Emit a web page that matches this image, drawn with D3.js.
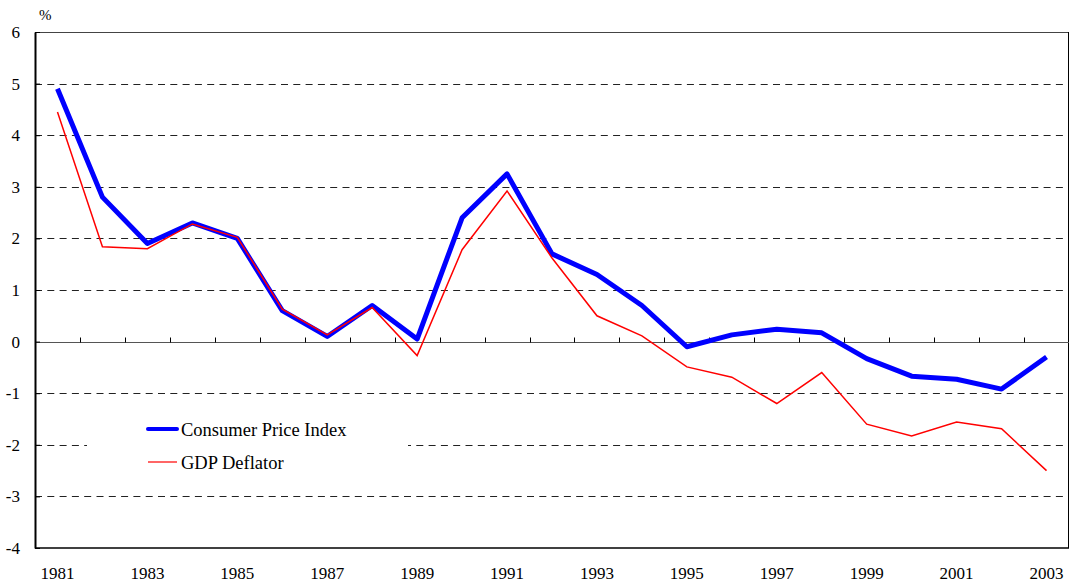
<!DOCTYPE html>
<html>
<head>
<meta charset="utf-8">
<script src="https://cdn.jsdelivr.net/npm/d3@7"></script>
<style>
  body { margin: 0; background: #fff; }
  text { font-family: "Liberation Serif", "Times New Roman", serif; fill: #000; }
</style>
</head>
<body>
<div id="chart"></div>
<script>
// data
var years = d3.range(1981, 2004);
var cpi = [4.9, 2.8, 1.9, 2.3, 2.0, 0.6, 0.1, 0.7, 0.05, 2.4, 3.25, 1.7, 1.3, 0.7, -0.1, 0.13, 0.24, 0.17, -0.33, -0.67, -0.73, -0.92, -0.3];
var deflator = [4.45, 1.84, 1.8, 2.28, 2.02, 0.63, 0.13, 0.66, -0.27, 1.78, 2.92, 1.62, 0.5, 0.11, -0.49, -0.69, -1.2, -0.6, -1.6, -1.83, -1.56, -1.69, -2.5];
var yTicks = [6, 5, 4, 3, 2, 1, 0, -1, -2, -3, -4];
var xLabels = years.filter(function(d, i) { return i % 2 === 0; });
var seriesNames = ["Consumer Price Index", "GDP Deflator"];

var margin = {top: 32, right: 1, bottom: 38, left: 35},
    width = 1070 - margin.left - margin.right,
    height = 586 - margin.top - margin.bottom;

var x = d3.scaleBand().domain(years).range([0, width]).padding(0);
var y = d3.scaleLinear().domain([-4, 6]).range([height, 0]);

var svg = d3.select("#chart").append("svg")
    .attr("width", 1070)
    .attr("height", 586)
  .append("g")
    .attr("transform", "translate(" + margin.left + "," + margin.top + ")");

// dashed gridlines
svg.append("g")
  .selectAll("line")
  .data(yTicks.filter(function(d) { return d !== 0 && d !== 6 && d !== -4; }))
  .enter().append("line")
    .attr("x1", 0)
    .attr("x2", width)
    .attr("y1", function(d) { return Math.round(y(d)) + 0.5; })
    .attr("y2", function(d) { return Math.round(y(d)) + 0.5; })
    .attr("stroke", "#222")
    .attr("stroke-width", 1)
    .attr("stroke-dasharray", "7,5.3");

// frame
svg.append("line").attr("x1", 0).attr("x2", width).attr("y1", 0.5).attr("y2", 0.5)
    .attr("stroke", "#444").attr("stroke-width", 1);
svg.append("line").attr("x1", width - 0.5).attr("x2", width - 0.5).attr("y1", 0).attr("y2", height)
    .attr("stroke", "#000").attr("stroke-width", 1);
svg.append("line").attr("x1", 0).attr("x2", width).attr("y1", height).attr("y2", height)
    .attr("stroke", "#000").attr("stroke-width", 1.5);

// zero line with year ticks
var zeroY = Math.round(y(0)) + 0.5;
svg.append("line").attr("x1", 0).attr("x2", width).attr("y1", zeroY).attr("y2", zeroY)
    .attr("stroke", "#555").attr("stroke-width", 1);
svg.append("g")
  .selectAll("line")
  .data(years.slice(1))
  .enter().append("line")
    .attr("x1", function(d) { return Math.round(x(d)) + 0.5; })
    .attr("x2", function(d) { return Math.round(x(d)) + 0.5; })
    .attr("y1", zeroY)
    .attr("y2", zeroY - 5)
    .attr("stroke", "#000");

// left axis
var yAxis = svg.append("g")
    .call(d3.axisLeft(y).tickValues(yTicks).tickSize(-5).tickSizeOuter(0)
      .tickFormat(function(d) { return String(d); }));
yAxis.select(".domain").attr("stroke", "#000").attr("stroke-width", 2);
yAxis.selectAll(".tick line").attr("stroke", "#000");
yAxis.selectAll(".tick text")
    .style("font-family", "'Liberation Serif', serif")
    .style("font-size", "17px")
    .attr("x", -15)
    .attr("dy", "0.32em");

// % label
svg.append("text")
    .attr("x", 4)
    .attr("y", -12)
    .attr("font-size", 15)
    .text("%");

// x labels
svg.append("g")
  .selectAll("text")
  .data(xLabels)
  .enter().append("text")
    .attr("x", function(d) { return x(d) + x.bandwidth() / 2; })
    .attr("y", height + 31)
    .attr("text-anchor", "middle")
    .attr("font-size", 17)
    .text(function(d) { return d; });

// lines
var line = d3.line()
    .x(function(d, i) { return x(years[i]) + x.bandwidth() / 2; })
    .y(function(d) { return y(d); });

svg.append("path")
    .datum(cpi)
    .attr("fill", "none")
    .attr("stroke", "#0000ff")
    .attr("stroke-width", 5)
    .attr("stroke-linejoin", "round")
    .attr("d", line);

svg.append("path")
    .datum(deflator)
    .attr("fill", "none")
    .attr("stroke", "#ff0000")
    .attr("stroke-width", 1.5)
    .attr("d", line);

// legend
var legend = svg.append("g").attr("transform", "translate(52,372)");
legend.append("rect")
    .attr("width", 321)
    .attr("height", 78)
    .attr("fill", "#fff");
var items = legend.selectAll("g.item")
  .data(seriesNames)
  .enter().append("g")
    .attr("class", "item")
    .attr("transform", function(d, i) { return "translate(0," + (25 + i * 33) + ")"; });
items.append("line")
    .attr("x1", 61)
    .attr("x2", 90)
    .attr("stroke", function(d, i) { return i === 0 ? "#0000ff" : "#ff3333"; })
    .attr("stroke-width", function(d, i) { return i === 0 ? 4 : 1.5; })
    .attr("stroke-linecap", function(d, i) { return i === 0 ? "round" : "butt"; });
items.append("text")
    .attr("x", 94)
    .attr("y", 7)
    .attr("font-size", 18.5)
    .text(function(d) { return d; });
</script>
</body>
</html>
